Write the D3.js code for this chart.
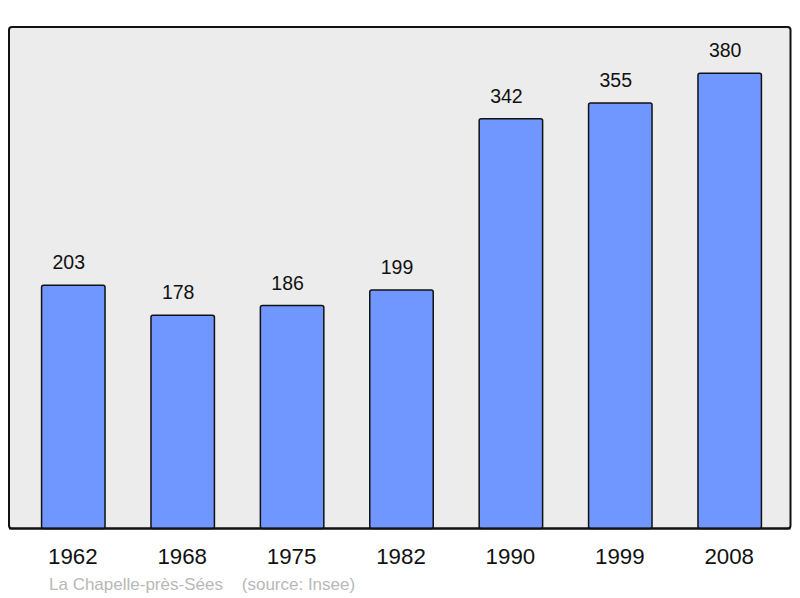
<!DOCTYPE html>
<html lang="fr">
<head>
    <meta charset="UTF-8">
    <title>La Chapelle-près-Sées</title>
    <script src="https://cdnjs.cloudflare.com/ajax/libs/d3/7.8.4/d3.min.js"></script>
    <style>
        body { margin: 0; background: #fff; }
        svg { display: block; font-family: "Liberation Sans", Arial, sans-serif; }
    </style>
</head>
<body>
    <svg width="800" height="598"></svg>

    <script>
        // population by census year
        const years = ["1962", "1968", "1975", "1982", "1990", "1999", "2008"];
        const population = [203, 178, 186, 199, 342, 355, 380];
        const caption = "La Chapelle-près-Sées    (source: Insee)";

        const svg = d3.select("svg");
        const plot = { left: 9, right: 790.5, top: 27, bottom: 528.5 };

        const step = 109.4;
        const x = d3.scaleBand()
            .domain(years)
            .range([73.3 - step / 2, 73.3 - step / 2 + step * years.length])
            .paddingInner(0.42)
            .paddingOuter(0.21);

        const y = d3.scaleLinear()
            .domain([0, 418.5])
            .range([plot.bottom, plot.top]);

        // frame
        svg.append("rect")
            .attr("x", plot.left)
            .attr("y", plot.top)
            .attr("width", plot.right - plot.left)
            .attr("height", plot.bottom - plot.top)
            .attr("rx", 3)
            .style("fill", "#ececec")
            .style("stroke", "#111")
            .style("stroke-width", 2);

        const data = years.map((yr, i) => ({ year: yr, value: population[i] }));

        // bars
        svg.selectAll("rect.bar")
            .data(data)
            .enter().append("rect")
            .attr("class", "bar")
            .attr("x", d => x(d.year))
            .attr("y", d => y(d.value))
            .attr("width", x.bandwidth())
            .attr("height", d => plot.bottom - y(d.value))
            .attr("rx", 2)
            .style("fill", "#7096ff")
            .style("stroke", "#111")
            .style("stroke-width", 1.5);

        // redraw bottom edge of the frame over the bars
        svg.append("line")
            .attr("x1", plot.left)
            .attr("x2", plot.right)
            .attr("y1", plot.bottom)
            .attr("y2", plot.bottom)
            .style("stroke", "#111")
            .style("stroke-width", 2);

        // value labels (sit slightly left of bar centre in the original)
        svg.selectAll("text.value")
            .data(data)
            .enter().append("text")
            .attr("class", "value")
            .attr("x", d => x(d.year) + x.bandwidth() / 2 - 4.5)
            .attr("y", d => y(d.value) - 16)
            .attr("text-anchor", "middle")
            .style("font-size", "19.5px")
            .style("fill", "#111")
            .text(d => d.value);

        // year labels
        svg.selectAll("text.year")
            .data(data)
            .enter().append("text")
            .attr("class", "year")
            .attr("x", d => x(d.year) + x.bandwidth() / 2 - 0.5)
            .attr("y", 564)
            .attr("text-anchor", "middle")
            .style("font-size", "22.3px")
            .style("fill", "#111")
            .text(d => d.year);

        svg.append("text")
            .attr("x", 49)
            .attr("y", 590)
            .attr("xml:space", "preserve")
            .style("font-size", "17px")
            .style("fill", "#b8b8b8")
            .style("white-space", "pre")
            .text(caption);
    </script>
</body>
</html>
